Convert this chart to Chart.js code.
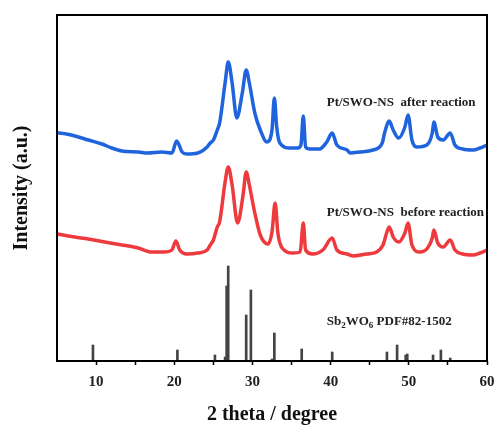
<!DOCTYPE html>
<html>
<head>
<meta charset="utf-8">
<script src="https://cdn.jsdelivr.net/npm/chart.js@4.4.0/dist/chart.umd.min.js"></script>
<style>
  body { margin: 0; background: #fff; }
  #wrap { width: 496px; height: 426px; }
</style>
</head>
<body>
<div id="wrap"><canvas id="xrdChart" width="496" height="426"></canvas></div>
<script>
// 2 theta positions and intensities (a.u.)
const afterX = [5.05, 5.2, 6.2, 7.3, 9.0, 10.75, 12.0, 13.3, 15.4, 16.6, 18.4, 19.7, 20.3, 21.0, 21.6, 23.0, 24.2, 24.6, 25.0, 25.5, 25.8, 26.5, 26.9, 27.4, 28.0, 28.7, 29.2, 29.6, 30.3, 31.0, 31.85, 32.5, 32.8, 33.1, 33.5, 34.8, 35.8, 36.2, 36.5, 36.8, 37.3, 38.6, 39.5, 40.2, 40.8, 42.1, 42.5, 43.7, 45.4, 46.6, 46.9, 47.5, 48.0, 48.7, 49.5, 49.9, 50.4, 51.0, 52.3, 53.0, 53.2, 53.7, 54.4, 55.3, 55.9, 56.9, 58.2, 59.1, 60];
const afterY = [228, 228, 227, 225, 221, 217, 213, 210, 209, 208, 209, 208, 220, 209, 207, 208, 214, 218, 221, 231, 238, 278, 299, 278, 243, 268, 291, 278, 248, 231, 219, 231, 263, 234, 218, 213, 213, 216, 245, 214, 212, 212, 219, 228, 216, 211, 208, 209, 211, 218, 228, 240, 231, 223, 234, 246, 221, 214, 216, 228, 239, 224, 221, 228, 216, 212, 211, 213, 216];

const beforeX = [5.05, 7.3, 9.0, 11.1, 13.3, 15.4, 17.1, 18.8, 19.7, 20.2, 20.7, 21.6, 23.0, 24.2, 24.6, 25.0, 25.5, 25.8, 26.5, 26.9, 27.4, 28.1, 28.8, 29.2, 29.6, 30.3, 31.0, 32.0, 32.5, 32.9, 33.25, 33.8, 35.2, 36.1, 36.5, 36.8, 37.7, 39.0, 40.2, 40.8, 42.1, 42.9, 44.6, 45.9, 46.7, 47.2, 47.5, 48.0, 48.7, 49.5, 49.9, 50.4, 51.4, 52.4, 53.0, 53.2, 53.7, 54.4, 55.3, 55.9, 56.9, 58.2, 59.1, 60];
const beforeY = [127, 124, 122, 119, 116, 113, 109, 109, 111, 120, 111, 107, 108, 111, 116, 121, 134, 139, 179, 194, 176, 138, 166, 189, 176, 148, 126, 117, 129, 158, 128, 113, 108, 109, 138, 111, 107, 111, 123, 111, 107, 105, 107, 109, 116, 129, 134, 124, 119, 128, 138, 116, 109, 113, 123, 131, 118, 114, 121, 111, 107, 106, 108, 111];

// Sb2WO6 PDF#82-1502 reference lines
const stickX = [9.6, 20.4, 25.2, 26.5, 26.7, 26.9, 29.2, 29.8, 32.5, 32.8, 36.3, 40.2, 47.2, 48.5, 49.6, 49.8, 53.1, 54.1, 55.3];
const stickY = [16, 11, 6, 4, 75, 95, 46, 71, 2, 28, 12, 9, 9, 16, 6, 7, 6, 11, 3];

const xTicks = [10, 20, 30, 40, 50, 60];

const toPoints = (xs, ys) => xs.map((x, i) => ({ x: x, y: ys[i] }));

const serif = '"Liberation Serif", "Times New Roman", serif';

// frame around the plot + labels next to each trace
const framePlugin = {
    id: 'frame',
    afterDraw(chart) {
        const ctx = chart.ctx;
        const a = chart.chartArea;
        const xs = chart.scales.x, ys = chart.scales.y;
        ctx.save();
        ctx.strokeStyle = '#000';
        ctx.lineWidth = 2;
        ctx.strokeRect(a.left, a.top, a.right - a.left, a.bottom - a.top);

        ctx.fillStyle = '#222';
        ctx.textBaseline = 'middle';
        ctx.font = 'bold 13px ' + serif;
        const lx = xs.getPixelForValue(39.5);
        ctx.fillText('Pt/SWO-NS  after reaction', lx, ys.getPixelForValue(258));
        ctx.fillText('Pt/SWO-NS  before reaction', lx, ys.getPixelForValue(148));

        // Sb2WO6 with subscripts
        let px = lx;
        const py = ys.getPixelForValue(39);
        const parts = [['Sb', false], ['2', true], ['WO', false], ['6', true], [' PDF#82-1502', false]];
        parts.forEach(([t, sub]) => {
            ctx.font = sub ? 'bold 9px ' + serif : 'bold 13px ' + serif;
            ctx.fillText(t, px, sub ? py + 4 : py);
            px += ctx.measureText(t).width;
        });
        ctx.restore();
    }
};

const ctx = document.getElementById('xrdChart').getContext('2d');
new Chart(ctx, {
    data: {
        datasets: [
            {
                type: 'line',
                label: 'Pt/SWO-NS after reaction',
                data: toPoints(afterX, afterY),
                borderColor: '#1f64dd',
                borderWidth: 3.5,
                pointRadius: 0,
                cubicInterpolationMode: 'monotone'
            },
            {
                type: 'line',
                label: 'Pt/SWO-NS before reaction',
                data: toPoints(beforeX, beforeY),
                borderColor: '#ef3a3d',
                borderWidth: 3.5,
                pointRadius: 0,
                cubicInterpolationMode: 'monotone'
            },
            {
                type: 'bar',
                label: 'Sb2WO6 PDF#82-1502',
                data: toPoints(stickX, stickY),
                backgroundColor: '#444',
                barThickness: 2
            }
        ]
    },
    options: {
        responsive: false,
        animation: false,
        layout: { padding: { top: 15, right: 9, left: 0, bottom: 0 } },
        plugins: {
            legend: { display: false },
            tooltip: { enabled: false }
        },
        scales: {
            x: {
                type: 'linear',
                offset: false,
                min: 5,
                max: 60,
                afterFit: s => { s.height = 65; s.paddingLeft = 0; s.paddingRight = 0; },
                afterBuildTicks: s => { s.ticks = [15, 25, 35, 45, 55].concat(xTicks).map(v => ({ value: v })); },
                grid: { display: true, offset: false, drawOnChartArea: false, tickLength: 4, tickColor: '#000', tickWidth: 1.5 },
                border: { display: false },
                ticks: {
                    color: '#222',
                    padding: 8,
                    font: { family: serif, size: 15, weight: 'bold' },
                    callback: v => (xTicks.includes(v) ? v : '')
                },
                title: {
                    display: true,
                    text: '2 theta / degree',
                    color: '#111',
                    padding: { top: 0, bottom: 0 },
                    font: { family: serif, size: 20, weight: 'bold', lineHeight: 1.1 }
                }
            },
            y: {
                min: 0,
                max: 346,
                afterFit: s => { s.width = 57; },
                grid: { display: false },
                border: { display: false },
                ticks: { display: false },
                title: {
                    display: true,
                    text: 'Intensity (a.u.)',
                    color: '#111',
                    padding: { top: 10, bottom: 0 },
                    font: { family: serif, size: 20, weight: 'bold' }
                }
            }
        }
    },
    plugins: [framePlugin]
});
</script>
</body>
</html>
